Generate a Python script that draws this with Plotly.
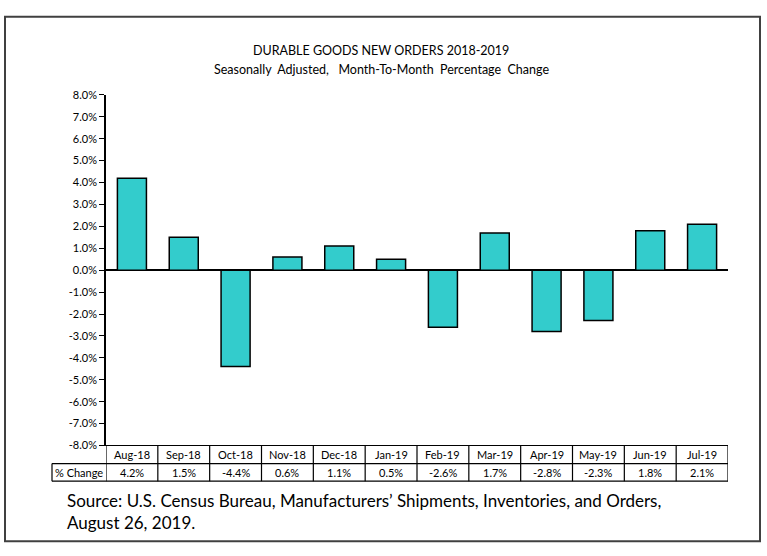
import plotly.graph_objects as go

categories = ["Aug-18", "Sep-18", "Oct-18", "Nov-18", "Dec-18", "Jan-19",
              "Feb-19", "Mar-19", "Apr-19", "May-19", "Jun-19", "Jul-19"]
pct_change = [4.2, 1.5, -4.4, 0.6, 1.1, 0.5, -2.6, 1.7, -2.8, -2.3, 1.8, 2.1]
y_ticks = [-8, -7, -6, -5, -4, -3, -2, -1, 0, 1, 2, 3, 4, 5, 6, 7, 8]
title = "DURABLE GOODS NEW ORDERS 2018-2019"
subtitle = "Seasonally  Adjusted,   Month-To-Month  Percentage  Change"
row_label = "% Change"
source = "Source: U.S. Census Bureau, Manufacturers’ Shipments, Inventories, and Orders,<br>August 26, 2019."

W, H = 767, 556
FONT = "Lato"

def px(x):
    return x / W

def py(y):
    return 1 - y / H

x_left, x_right = 106, 728
y_top, y_bot = 90, 449
row1_top, row_mid, row2_bot = 449, 467.5, 485.5
label_left = 52

fig = go.Figure()
fig.add_trace(go.Bar(
    x=list(range(len(categories))), y=pct_change,
    marker=dict(color="#33CCCC", line=dict(color="black", width=1.5)),
    hoverinfo="skip",
))

shapes = []
shapes.append(dict(type="rect", xref="paper", yref="paper",
                   x0=px(5), x1=px(760), y0=py(547), y1=py(10),
                   line=dict(color="#404040", width=2)))
line_style = dict(color="black", width=1.2)
shapes.append(dict(type="line", xref="paper", yref="paper", x0=px(x_left), x1=px(x_right),
                   y0=py(row1_top), y1=py(row1_top), line=line_style))
shapes.append(dict(type="line", xref="paper", yref="paper", x0=px(label_left), x1=px(x_right),
                   y0=py(row_mid), y1=py(row_mid), line=line_style))
shapes.append(dict(type="line", xref="paper", yref="paper", x0=px(label_left), x1=px(x_right),
                   y0=py(row2_bot), y1=py(row2_bot), line=line_style))
shapes.append(dict(type="line", xref="paper", yref="paper", x0=px(label_left), x1=px(label_left),
                   y0=py(row_mid), y1=py(row2_bot), line=line_style))
for k in range(len(categories) + 1):
    shapes.append(dict(type="line", xref="x", yref="paper", x0=k - 0.5, x1=k - 0.5,
                       y0=py(row1_top), y1=py(row2_bot), line=line_style))

annotations = []
annotations.append(dict(text=title, xref="paper", yref="paper", x=px(381), y=py(45),
                        showarrow=False, font=dict(family=FONT, size=12.5, color="black"),
                        xanchor="center", yanchor="middle"))
annotations.append(dict(text=subtitle, xref="paper", yref="paper", x=px(381), y=py(64),
                        showarrow=False, font=dict(family=FONT, size=12.5, color="black"),
                        xanchor="center", yanchor="middle"))
for i, (c, v) in enumerate(zip(categories, pct_change)):
    annotations.append(dict(text=c, xref="x", yref="paper", x=i, y=py((row1_top + row_mid) / 2),
                            showarrow=False, font=dict(family=FONT, size=11, color="black"),
                            xanchor="center", yanchor="middle"))
    annotations.append(dict(text=f"{v:.1f}%", xref="x", yref="paper", x=i, y=py((row_mid + row2_bot) / 2),
                            showarrow=False, font=dict(family=FONT, size=11, color="black"),
                            xanchor="center", yanchor="middle"))
annotations.append(dict(text=row_label, xref="paper", yref="paper", x=px((label_left + x_left) / 2),
                        y=py((row_mid + row2_bot) / 2), showarrow=False,
                        font=dict(family=FONT, size=11, color="black"),
                        xanchor="center", yanchor="middle"))
annotations.append(dict(text=source, xref="paper", yref="paper", x=px(65), y=py(493),
                        showarrow=False, font=dict(family=FONT, size=17, color="black"),
                        xanchor="left", yanchor="top", align="left"))

fig.update_layout(
    width=W, height=H,
    margin=dict(l=0, r=0, t=0, b=0),
    paper_bgcolor="white", plot_bgcolor="white",
    showlegend=False,
    bargap=0.44,
    xaxis=dict(domain=[px(x_left), px(x_right)], range=[-0.5, len(categories) - 0.5],
               showticklabels=False, showgrid=False, zeroline=False, showline=False, ticks=""),
    yaxis=dict(domain=[py(y_bot), py(y_top)], range=[-8, 8],
               tickvals=y_ticks, ticktext=[f"{t:.1f}%" for t in y_ticks],
               showgrid=False, showline=True, linecolor="black", linewidth=1.5,
               ticks="outside", ticklen=5, tickcolor="black", tickwidth=1.2,
               zeroline=True, zerolinecolor="black", zerolinewidth=1.5,
               tickfont=dict(family=FONT, size=11, color="black")),
    shapes=shapes,
    annotations=annotations,
)

fig.write_html("out.html", config={"displayModeBar": False},
               post_script="document.body.style.margin='0';document.body.style.overflow='hidden';")
